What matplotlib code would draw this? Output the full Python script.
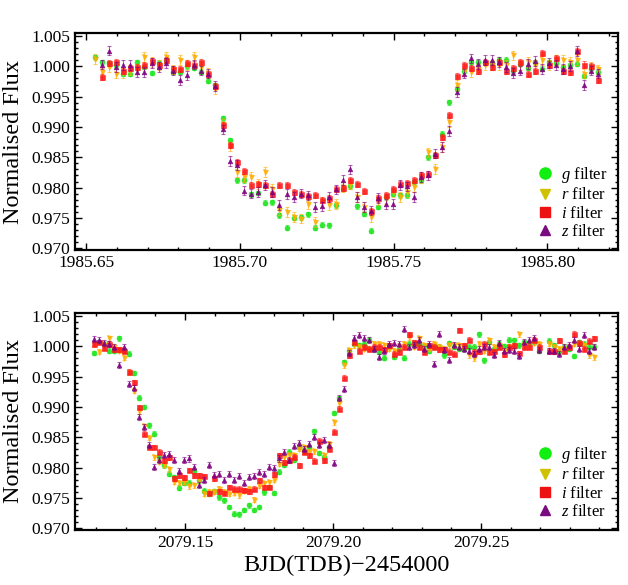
import numpy as np
import matplotlib
matplotlib.use("Agg")
from matplotlib import pyplot as plt
from matplotlib.ticker import MultipleLocator, FormatStrFormatter
from matplotlib.lines import Line2D

plt.rcParams['font.family'] = ['Liberation Serif', 'DejaVu Serif']
plt.rcParams['mathtext.fontset'] = 'custom'
plt.rcParams['mathtext.rm'] = 'Liberation Serif'
plt.rcParams['mathtext.it'] = 'Liberation Serif:italic'

nan = np.nan

# ---- top transit (BJD - 2454000) ----
t_top = [1985.6529, 1985.6552, 1985.6575, 1985.6598, 1985.6621, 1985.6644, 1985.6667, 1985.6690, 1985.6713, 1985.6737,
         1985.6760, 1985.6783, 1985.6806, 1985.6829, 1985.6852, 1985.6875, 1985.6898, 1985.6921, 1985.6944, 1985.6967,
         1985.6990, 1985.7013, 1985.7036, 1985.7059, 1985.7082, 1985.7106, 1985.7129, 1985.7152, 1985.7175, 1985.7198,
         1985.7221, 1985.7244, 1985.7267, 1985.7290, 1985.7313, 1985.7336, 1985.7359, 1985.7382, 1985.7405, 1985.7428,
         1985.7451, 1985.7475, 1985.7498, 1985.7521, 1985.7544, 1985.7567, 1985.7590, 1985.7613, 1985.7636, 1985.7659,
         1985.7682, 1985.7705, 1985.7728, 1985.7751, 1985.7774, 1985.7797, 1985.7820, 1985.7844, 1985.7867, 1985.7890,
         1985.7913, 1985.7936, 1985.7959, 1985.7982, 1985.8005, 1985.8028, 1985.8051, 1985.8074, 1985.8097, 1985.8120,
         1985.8143, 1985.8166]

g_top = [1.0015, 1.0007, 1.0005, 1.0002, 0.9988, 0.9988, 1.0007, 0.9999, 0.9989, 1.0006,
         1.0010, 0.9991, 0.9991, 1.0000, 0.9998, 0.9991, 0.9976, 0.9969, 0.9914, 0.9878,
         0.9812, 0.9812, 0.9789, 0.9791, 0.9775, 0.9776, 0.9754, 0.9734, 0.9750, 0.9751,
         0.9756, 0.9734, 0.9739, 0.9738, 0.9771, 0.9798, 0.9802, 0.9769, 0.9757, 0.9729,
         0.9768, 0.9784, 0.9790, 0.9787, 0.9787, 0.9809, 0.9812, 0.9850, 0.9853, 0.9889,
         0.9941, 0.9963, 0.9993, 1.0007, 1.0007, 1.0006, 1.0005, 1.0011, 1.0011, 0.9993,
         1.0004, 0.9998, 1.0007, 0.9996, 1.0007, 1.0006, 0.9999, 1.0002, 1.0004, 0.9984,
         0.9995, 0.9991]
r_top = [1.0012, 0.9990, 0.9999, 0.9988, 0.9989, 0.9994, 0.9996, 1.0015, 1.0007, 1.0002,
         1.0015, 0.9995, 1.0010, 1.0002, 1.0015, 0.9999, 0.9989, 0.9962, 0.9905, 0.9868,
         0.9826, 0.9817, 0.9817, 0.9806, 0.9826, 0.9798, 0.9763, 0.9760, 0.9751, 0.9749,
         0.9773, 0.9743, 0.9776, 0.9771, 0.9773, 0.9801, 0.9806, 0.9784, 0.9768, 0.9751,
         0.9779, 0.9781, 0.9792, 0.9784, 0.9792, 0.9801, 0.9815, 0.9858, 0.9831, 0.9867,
         0.9908, 0.9969, 0.9993, 0.9991, 0.9996, 1.0002, 1.0002, 1.0002, 1.0002, 1.0018,
         1.0002, 1.0007, 1.0002, 1.0010, 1.0002, 1.0010, 1.0010, 1.0007, 1.0010, 0.9988,
         0.9999, 0.9995]
i_top = [nan, 0.9982, 1.0005, 1.0007, 0.9992, 0.9998, 0.9999, 1.0002, 1.0009, 1.0002,
         1.0011, 0.9995, 0.9995, 1.0006, 1.0003, 1.0007, 0.9988, 0.9967, 0.9904, 0.9871,
         0.9842, 0.9828, 0.9805, 0.9806, 0.9805, 0.9790, 0.9805, 0.9805, 0.9793, 0.9789,
         0.9786, 0.9787, 0.9779, 0.9782, 0.9798, 0.9800, 0.9813, 0.9806, 0.9795, 0.9762,
         0.9782, 0.9787, 0.9798, 0.9806, 0.9807, 0.9812, 0.9820, 0.9823, 0.9853, 0.9883,
         0.9919, 0.9984, 1.0002, 0.9998, 0.9992, 1.0007, 0.9999, 1.0007, 0.9993, 0.9997,
         1.0007, 0.9987, 0.9993, 1.0022, 1.0003, 1.0014, 0.9993, 0.9991, 1.0025, 1.0003,
         1.0001, 0.9977]
z_top = [nan, 1.0003, 1.0026, 0.9999, 1.0002, 1.0002, 0.9991, 0.9991, 1.0006, 0.9999,
         1.0006, 0.9993, 0.9977, 0.9985, 1.0003, 0.9993, 0.9988, 0.9967, 0.9896, 0.9844,
         0.9837, 0.9795, 0.9790, 0.9793, 0.9804, 0.9793, 0.9771, 0.9789, 0.9784, 0.9790,
         0.9787, 0.9768, 0.9769, 0.9784, 0.9797, 0.9812, 0.9830, 0.9784, 0.9768, 0.9762,
         0.9783, 0.9773, 0.9773, 0.9804, 0.9802, 0.9784, 0.9817, 0.9820, 0.9856, 0.9867,
         0.9893, 0.9958, 0.9988, 1.0013, 1.0004, 1.0011, 1.0010, 1.0007, 0.9999, 0.9989,
         0.9993, 1.0004, 1.0009, 0.9996, 1.0006, 1.0002, 0.9996, 1.0000, 1.0025, 0.9969,
         0.9993, 0.9988]

# ---- bottom transit ----
t_bot = [2079.1193, 2079.1210, 2079.1227, 2079.1244, 2079.1261, 2079.1277, 2079.1294, 2079.1311, 2079.1328, 2079.1345,
         2079.1362, 2079.1379, 2079.1396, 2079.1413, 2079.1429, 2079.1446, 2079.1463, 2079.1480, 2079.1497, 2079.1514,
         2079.1531, 2079.1548, 2079.1565, 2079.1581, 2079.1598, 2079.1615, 2079.1632, 2079.1649, 2079.1666, 2079.1683,
         2079.1700, 2079.1717, 2079.1733, 2079.1750, 2079.1767, 2079.1784, 2079.1801, 2079.1818, 2079.1835, 2079.1852,
         2079.1869, 2079.1885, 2079.1902, 2079.1919, 2079.1936, 2079.1953, 2079.1970, 2079.1987, 2079.2004, 2079.2021,
         2079.2038, 2079.2054, 2079.2071, 2079.2088, 2079.2105, 2079.2122, 2079.2139, 2079.2156, 2079.2173, 2079.2190,
         2079.2206, 2079.2223, 2079.2240, 2079.2257, 2079.2274, 2079.2291, 2079.2308, 2079.2325, 2079.2342, 2079.2358,
         2079.2375, 2079.2392, 2079.2409, 2079.2426, 2079.2443, 2079.2460, 2079.2477, 2079.2494, 2079.2510, 2079.2527,
         2079.2544, 2079.2561, 2079.2578, 2079.2595, 2079.2612, 2079.2629, 2079.2646, 2079.2663, 2079.2679, 2079.2696,
         2079.2730, 2079.2747, 2079.2764, 2079.2781, 2079.2798, 2079.2815, 2079.2831, 2079.2848, 2079.2865, 2079.2882]

g_bot = [0.9989, 1.0007, 1.0004, 0.9993, 0.9993, 1.0013, 0.9993, 0.9988, 0.9956, 0.9915,
         0.9900, 0.9870, 0.9856, 0.9817, 0.9804, 0.9790, 0.9784, 0.9767, 0.9775, 0.9775,
         0.9794, 0.9779, 0.9762, 0.9757, 0.9761, 0.9751, 0.9746, 0.9735, 0.9724, 0.9723,
         0.9730, 0.9738, 0.9730, 0.9735, 0.9759, 0.9768, 0.9758, 0.9793, 0.9805, 0.9826,
         0.9813, 0.9834, 0.9828, 0.9834, 0.9860, 0.9824, 0.9817, 0.9834, 0.9890, 0.9914,
         0.9974, 0.9992, 1.0004, 1.0002, 1.0004, 1.0011, 0.9995, 0.9991, 0.9981, 0.9999,
         0.9983, 0.9996, 0.9981, 1.0004, 1.0004, 1.0004, 1.0000, 0.9993, 1.0000, 0.9999,
         0.9985, 1.0005, 0.9999, 0.9996, 0.9996, 0.9999, 0.9999, 1.0020, 0.9977, 1.0007,
         0.9995, 1.0004, 1.0000, 1.0011, 1.0010, 1.0002, 1.0007, 1.0006, 1.0007, 0.9993,
         1.0009, 1.0002, 0.9991, 0.9999, 0.9996, 0.9984, 1.0007, 1.0004, 0.9999, 0.9999]
r_bot = [1.0003, 0.9991, 1.0002, 1.0013, 0.9999, 0.9993, 0.9981, 0.9957, 0.9927, 0.9893,
         0.9868, 0.9849, 0.9817, 0.9810, 0.9805, 0.9797, 0.9777, 0.9775, 0.9777, 0.9769,
         0.9771, 0.9780, 0.9757, 0.9760, 0.9760, 0.9765, 0.9760, 0.9757, 0.9758, 0.9754,
         0.9762, 0.9765, 0.9747, 0.9770, 0.9774, 0.9776, 0.9780, 0.9806, 0.9817, 0.9820,
         0.9820, 0.9831, 0.9834, 0.9826, 0.9827, 0.9839, 0.9820, 0.9839, 0.9875, 0.9906,
         0.9969, 0.9994, 1.0002, 0.9999, 0.9996, 0.9996, 1.0004, 1.0004, 1.0002, 0.9996,
         0.9993, 1.0000, 1.0004, 1.0015, 0.9999, 1.0013, 1.0002, 0.9996, 1.0004, 0.9999,
         0.9996, 1.0002, 1.0002, 1.0002, 0.9999, 0.9985, 0.9980, 1.0004, 0.9993, 1.0010,
         0.9999, 1.0002, 0.9993, 0.9999, 0.9999, 1.0020, 1.0002, 1.0004, 1.0006, 1.0004,
         1.0004, 0.9999, 0.9996, 0.9996, 0.9999, 1.0004, 1.0004, 1.0002, 0.9985, 0.9982]
i_bot = [1.0004, 1.0007, 0.9998, 1.0004, 0.9995, 0.9995, 0.9993, 0.9958, 0.9941, 0.9900,
         0.9856, 0.9834, 0.9834, 0.9826, 0.9812, 0.9817, 0.9782, 0.9787, 0.9784, 0.9796,
         0.9787, 0.9787, 0.9786, 0.9758, 0.9782, 0.9761, 0.9758, 0.9768, 0.9765, 0.9765,
         0.9763, 0.9761, 0.9765, 0.9779, 0.9768, 0.9768, 0.9789, 0.9820, 0.9809, 0.9812,
         0.9818, 0.9804, 0.9826, 0.9820, 0.9811, 0.9844, 0.9812, 0.9831, 0.9859, 0.9897,
         0.9948, 0.9985, 1.0007, 0.9993, 0.9999, 0.9996, 0.9999, 0.9999, 0.9995, 1.0002,
         0.9988, 0.9991, 0.9999, 1.0020, 1.0007, 0.9999, 0.9991, 1.0002, 0.9999, 0.9995,
         0.9995, 0.9991, 0.9988, 1.0027, 1.0002, 1.0011, 0.9991, 0.9992, 1.0004, 0.9991,
         0.9992, 0.9999, 0.9987, 0.9999, 1.0002, 0.9989, 0.9999, 0.9999, 1.0011, 0.9999,
         0.9993, 0.9992, 1.0010, 0.9993, 0.9999, 1.0021, 1.0006, 0.9996, 1.0009, 1.0013]
z_bot = [1.0012, 1.0011, 1.0006, 1.0004, 0.9999, 0.9969, 0.9999, 0.9938, 0.9932, 0.9884,
         0.9867, 0.9837, 0.9801, 0.9812, 0.9820, 0.9823, 0.9812, 0.9795, 0.9812, 0.9815,
         0.9801, 0.9771, 0.9780, 0.9805, 0.9787, 0.9789, 0.9779, 0.9790, 0.9779, 0.9786,
         0.9774, 0.9785, 0.9786, 0.9793, 0.9790, 0.9801, 0.9800, 0.9815, 0.9826, 0.9813,
         0.9835, 0.9840, 0.9831, 0.9839, 0.9850, 0.9837, 0.9845, 0.9837, 0.9807, 0.9914,
         0.9929, 0.9989, 1.0013, 1.0018, 1.0013, 1.0011, 0.9996, 0.9982, 0.9993, 1.0004,
         1.0006, 1.0004, 1.0028, 0.9999, 1.0002, 1.0010, 0.9996, 1.0004, 0.9971, 1.0020,
         0.9994, 0.9977, 1.0002, 0.9999, 0.9996, 0.9993, 0.9988, 0.9996, 0.9999, 0.9999,
         0.9985, 1.0006, 0.9993, 0.9994, 0.9993, 0.9984, 1.0007, 1.0011, 1.0013, 0.9994,
         0.9993, 0.9993, 0.9987, 0.9999, 1.0002, 1.0010, 0.9996, 1.0018, 0.9993, 0.9999]

# typical photometric errors per filter
err_top = {'g': 0.0004, 'r': 0.0008, 'i': 0.0005, 'z': 0.0008}
err_bot = {'g': 0.0004, 'r': 0.0004, 'i': 0.0004, 'z': 0.0005}

filters = ['g', 'r', 'i', 'z']
markers = {'g': 'o', 'r': 'v', 'i': 's', 'z': '^'}
colors = {'g': '#1ee61e', 'r': '#ffad00', 'i': '#ff1a1a', 'z': '#800080'}
leg_colors = {'g': '#11ee11', 'r': '#cfc000', 'i': '#ee1111', 'z': '#7a0a80'}
msize = {'g': 3.6, 'r': 3.6, 'i': 3.6, 'z': 3.4}

fig = plt.figure(figsize=(6.28, 5.85), dpi=100)
ax1 = fig.add_axes([0.1194, 0.5726, 0.8646, 0.371])
ax2 = fig.add_axes([0.1194, 0.0940, 0.8646, 0.371])


def draw(ax, t, data, errs):
    for k, f in enumerate(filters):
        y = np.array(data[f])
        ax.errorbar(t, y, yerr=errs[f], fmt='none', ecolor=colors[f], elinewidth=0.8,
                    capsize=1.5, capthick=0.8, alpha=0.6, zorder=2 + k)
        ax.plot(t, y, linestyle='none', marker=markers[f], ms=msize[f],
                color=colors[f], mec=colors[f], mew=0.4, alpha=0.9, zorder=2.5 + k)
    ax.set_ylim(0.9697, 1.0055)
    ax.xaxis.set_major_locator(MultipleLocator(0.05))
    ax.xaxis.set_minor_locator(MultipleLocator(0.01))
    ax.yaxis.set_major_locator(MultipleLocator(0.005))
    ax.yaxis.set_minor_locator(MultipleLocator(0.001))
    ax.xaxis.set_major_formatter(FormatStrFormatter('%.2f'))
    ax.yaxis.set_major_formatter(FormatStrFormatter('%.3f'))
    ax.tick_params(which='both', direction='in', top=True, right=True, labelsize=12.5, width=1.0)
    ax.tick_params(which='major', length=5)
    ax.tick_params(which='minor', length=2.5)
    for s in ax.spines.values():
        s.set_linewidth(1.6)
    ax.set_ylabel('Normalised Flux', fontsize=17.5, labelpad=5)
    handles = [Line2D([], [], linestyle='none', marker=markers[f], ms=8 if f == 'g' else 7,
                      color=leg_colors[f]) for f in filters]
    labels = ['$' + f + '$ filter' for f in filters]
    ax.legend(handles, labels, loc='lower right', frameon=False, fontsize=12,
              handlelength=1.0, handletextpad=0.5, labelspacing=0.14, borderaxespad=0.2)


draw(ax1, t_top, {'g': g_top, 'r': r_top, 'i': i_top, 'z': z_top}, err_top)
ax1.set_xlim(1985.6464, 1985.8230)
draw(ax2, t_bot, {'g': g_bot, 'r': r_bot, 'i': i_bot, 'z': z_bot}, err_bot)
ax2.set_xlim(2079.1128, 2079.2963)
ax2.set_xlabel('BJD(TDB)\u22122454000', fontsize=17.5, labelpad=3)

fig.savefig('out.png', dpi=100)
